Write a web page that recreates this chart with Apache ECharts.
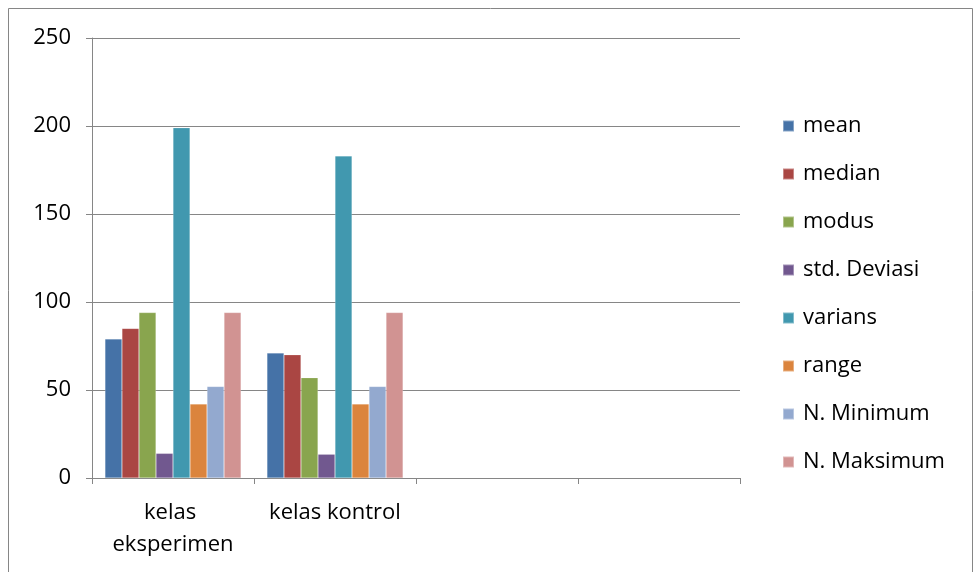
<!DOCTYPE html>
<html>
<head>
<meta charset="utf-8">
<script src="https://cdn.jsdelivr.net/npm/echarts@6/dist/echarts.min.js"></script>
<style>
  html, body { margin: 0; padding: 0; background: #fff; }
  #chart { width: 974px; height: 572px; }
</style>
</head>
<body>
<div id="chart"></div>
<script>
// Categories on the x axis (the last two slots are empty)
const categories = ['kelas eksperimen', 'kelas kontrol', '', ''];

// Statistic names and their colours
const seriesNames = ['mean', 'median', 'modus', 'std. Deviasi', 'varians', 'range', 'N. Minimum', 'N. Maksimum'];
const seriesColors = ['#4572A7', '#AA4643', '#89A54E', '#71588F', '#4198AF', '#DB843D', '#93A9CF', '#D19392'];

// Values per statistic: [kelas eksperimen, kelas kontrol]
const mean = [79, 71];
const median = [85, 70];
const modus = [94, 57];
const stdDeviasi = [14, 13.5];
const varians = [199, 183];
const range = [42, 42];
const nMinimum = [52, 52];
const nMaksimum = [94, 94];

const seriesValues = [mean, median, modus, stdDeviasi, varians, range, nMinimum, nMaksimum];

// y axis ticks
const yMin = 0, yMax = 250, yStep = 50;

const font = '"Open Sans", "Noto Sans", sans-serif';

const chart = echarts.init(document.getElementById('chart'));
chart.setOption({
  animation: false,
  textStyle: { fontFamily: font },
  graphic: [{
    type: 'rect',
    shape: { x: 8.5, y: 8.5, width: 964, height: 580 },
    style: { fill: 'none', stroke: '#868686', lineWidth: 1 },
    silent: true
  }],
  grid: { left: 92, right: 234, top: 38, bottom: 94 },
  legend: {
    orient: 'vertical',
    left: 782,
    top: 115,
    padding: 0,
    itemWidth: 11,
    itemHeight: 11,
    itemGap: 26,
    icon: 'rect',
    textStyle: { fontSize: 22, color: '#000', fontFamily: font, padding: [0, 0, 0, 4] },
    data: seriesNames
  },
  xAxis: {
    type: 'category',
    data: categories,
    axisLine: { lineStyle: { color: '#868686', width: 1 } },
    axisTick: { show: true, length: 6, lineStyle: { color: '#868686' } },
    axisLabel: {
      interval: 0,
      margin: 19,
      fontSize: 22,
      color: '#000',
      lineHeight: 32,
      width: 150,
      overflow: 'break'
    },
    splitLine: { show: false }
  },
  yAxis: {
    type: 'value',
    min: yMin,
    max: yMax,
    interval: yStep,
    axisLine: { show: true, lineStyle: { color: '#868686', width: 1 } },
    axisTick: { show: true, length: 6, lineStyle: { color: '#868686' } },
    axisLabel: { fontSize: 22, color: '#000', margin: 21 },
    splitLine: { lineStyle: { color: '#868686', width: 1 } }
  },
  series: seriesNames.map((name, i) => ({
    name: name,
    type: 'bar',
    data: seriesValues[i],
    barGap: '0%',
    barCategoryGap: '16%',
    itemStyle: { color: seriesColors[i], borderColor: 'rgba(255,255,255,0.35)', borderWidth: 0.5 }
  }))
});
</script>
</body>
</html>
